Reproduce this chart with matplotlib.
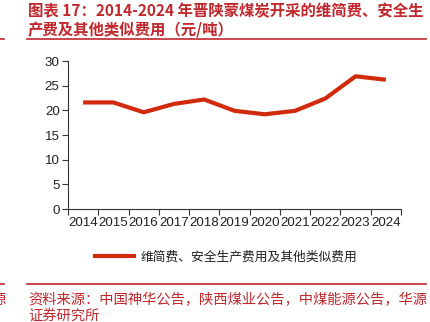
import matplotlib.pyplot as plt
import numpy as np
from matplotlib.lines import Line2D

plt.rcParams["font.family"] = ["Liberation Sans", "Noto Sans CJK SC", "DejaVu Sans"]

years = ["2014", "2015", "2016", "2017", "2018", "2019",
         "2020", "2021", "2022", "2023", "2024"]
cost = [21.6, 21.6, 19.6, 21.3, 22.2, 19.9, 19.2, 19.9, 22.4, 26.9, 26.2]

series_name = "维简费、安全生产费用及其他类似费用"
title_lines = ["图表 17：2014-2024 年晋陕蒙煤炭开采的维简费、安全生",
               "产费及其他类似费用（元/吨）"]
source_lines = ["资料来源：中国神华公告，陕西煤业公告，中煤能源公告，华源",
                "证券研究所"]

W, H = 431, 322
RED = "#c0282e"
LINE_RED = "#d12a0c"
CJK = ["Noto Sans CJK SC", "DejaVu Sans"]

fig = plt.figure(figsize=(W / 100, H / 100), dpi=100)
ax = fig.add_axes([68 / W, 1 - 209 / H, (401 - 68) / W, (209 - 61) / H])

x = np.arange(len(years))
ax.plot(x, cost, color=LINE_RED, lw=3.0, solid_capstyle="butt")

ax.set_xlim(-0.5, len(years) - 0.5)
ax.set_ylim(0, 30)
ax.set_yticks(range(0, 31, 5))
ax.set_xticks(x)
ax.set_xticklabels(years, fontsize=9.6, color="#222222")
ax.set_xticks(np.arange(-0.5, len(years)), minor=True)
ax.tick_params(axis="x", which="major", length=0, pad=6)
ax.tick_params(axis="x", which="minor", length=4, width=0.8, color="#333333")
ax.tick_params(axis="y", length=4, width=0.8, color="#333333",
               labelsize=9.6, labelcolor="#222222", pad=2)
for side in ("top", "right"):
    ax.spines[side].set_visible(False)
for side in ("left", "bottom"):
    ax.spines[side].set_color("#333333")
    ax.spines[side].set_linewidth(0.8)

# legend drawn below the axes
handle = Line2D([], [], color=LINE_RED, lw=3.0)
leg = fig.legend([handle], [series_name], loc="center",
                 bbox_to_anchor=(226 / W, 1 - 257 / H), frameon=False,
                 handlelength=3.0, handletextpad=0.5,
                 prop={"family": CJK, "size": 9.2})
for t in leg.get_texts():
    t.set_color("#222222")

# title block
fig.text(28 / W, 1 - 11 / H, title_lines[0], color=RED, fontsize=11.1,
         fontweight="bold", family=CJK, va="center", ha="left")
fig.text(28 / W, 1 - 30 / H, title_lines[1], color=RED, fontsize=11.1,
         fontweight="bold", family=CJK, va="center", ha="left")
fig.add_artist(Line2D([27 / W, 426 / W], [1 - 39 / H, 1 - 39 / H],
                      color=RED, lw=1.2))

# source block
fig.add_artist(Line2D([27 / W, 426 / W], [1 - 284 / H, 1 - 284 / H],
                      color=RED, lw=1.2))
fig.text(28 / W, 1 - 300 / H, source_lines[0], color=RED, fontsize=10.3,
         family=CJK, va="center", ha="left")
fig.text(28 / W, 1 - 316 / H, source_lines[1], color=RED, fontsize=10.3,
         family=CJK, va="center", ha="left")

# edges of the neighbouring column at the left margin
fig.add_artist(Line2D([0, 4 / W], [1 - 39 / H, 1 - 39 / H], color=RED, lw=1.2))
fig.add_artist(Line2D([0, 4 / W], [1 - 284 / H, 1 - 284 / H], color=RED, lw=1.2))
fig.text(5 / W, 1 - 14 / H, "）", color=RED, fontsize=10.8, fontweight="bold",
         family=CJK, va="center", ha="right")
fig.text(6 / W, 1 - 300 / H, "源", color=RED, fontsize=10.2,
         family=CJK, va="center", ha="right")

fig.savefig("out.png", dpi=100)
